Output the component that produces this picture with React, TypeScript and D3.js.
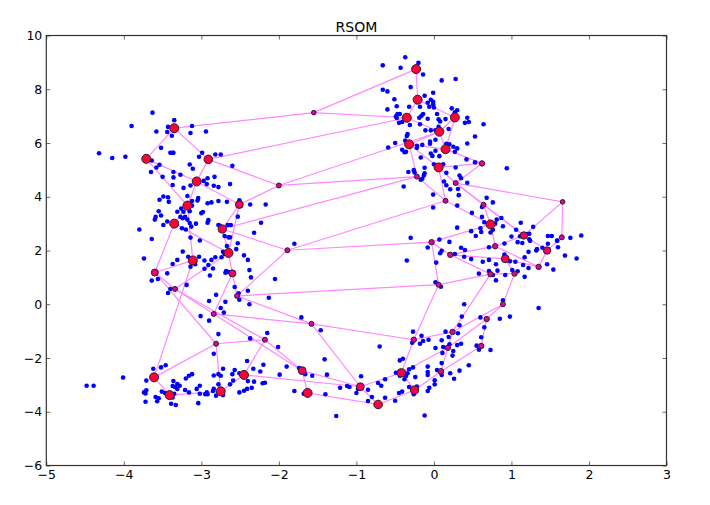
import * as d3 from "d3";
import { useEffect, useRef } from "react";

const chartTitle = "RSOM";
const xTicks = [-5, -4, -3, -2, -1, 0, 1, 2, 3];
const yTicks = [-6, -4, -2, 0, 2, 4, 6, 8, 10];

// input samples
const samples: [number, number][] = [
  [-3.63, 7.13], [-3.35, 6.85], [-3.9, 6.63], [-3.12, 6.63], [-3.43, 6.6], [-3.58, 6.43], [-3.44, 6.41], [-3.14, 6.37],
  [-2.94, 6.43], [-3.38, 6.27], [-3.52, 5.82], [-4.32, 5.62], [-3.4, 5.64], [-3.37, 5.64], [-3.36, 5.64], [-3.98, 5.49],
  [-4.15, 5.44], [-2.99, 5.64], [-3.03, 5.49], [-2.82, 5.57], [-2.75, 5.57], [-3.64, 5.35], [-3.54, 5.19], [-3.58, 5.09],
  [-3.15, 5.2], [-3.11, 5.04], [-2.6, 5.15], [-3.65, 4.92], [-3.36, 4.92], [-3.27, 4.82], [-3.36, 4.72], [-3.5, 4.74],
  [-2.92, 4.69], [-2.83, 4.74], [-2.97, 4.59], [-2.93, 4.47], [-3.37, 4.44], [-3.14, 4.42], [-3.23, 4.33], [-2.84, 4.41],
  [-2.78, 4.36], [-2.63, 4.47], [-3.18, 4.03], [-3.49, 4.01], [-3.43, 3.98], [-3.54, 3.89], [-3.42, 3.81], [-3.04, 3.95],
  [-3.05, 3.86], [-3.12, 3.84], [-2.92, 3.76], [-2.87, 3.79], [-2.78, 3.84], [-2.67, 3.81], [-2.51, 3.87], [-2.37, 3.71],
  [-2.17, 3.71], [-3.12, 3.67], [-3.26, 3.56], [-3.15, 3.46], [-3.23, 3.44], [-3.31, 3.44], [-3.55, 3.46], [-3.52, 3.3],
  [-3.59, 3.25], [-3.6, 3.15], [-2.98, 3.43], [-3.0, 3.39], [-2.53, 3.26], [-3.27, 3.25], [-3.21, 3.25], [-3.24, 3.2],
  [-3.18, 3.15], [-2.91, 3.13], [-2.92, 3.03], [-3.44, 3.08], [-3.49, 2.95], [-3.15, 3.02], [-3.13, 2.89], [-3.07, 3.0],
  [-2.78, 2.95], [-2.76, 2.92], [-2.66, 2.95], [-2.62, 2.95], [-2.23, 3.03], [-3.8, 2.78], [-3.25, 2.83], [-3.2, 2.78],
  [-2.32, 2.66], [-2.7, 2.54], [-2.65, 2.49], [-2.63, 2.49], [-3.64, 2.43], [-3.14, 2.48], [-3.02, 2.37], [-2.53, 2.27],
  [-2.67, 2.17], [-1.8, 2.25],
  [-3.24, 1.96], [-2.55, 2.05], [-2.72, 1.95], [-2.7, 1.87], [-2.74, 1.75], [-3.03, 1.77], [-3.17, 1.77], [-2.82, 1.75],
  [-2.87, 1.65], [-2.96, 1.63], [-2.45, 1.82], [-2.4, 1.65], [-3.74, 1.7], [-3.31, 1.65], [-3.37, 1.5], [-3.08, 1.49],
  [-3.14, 1.4], [-2.91, 1.46], [-2.96, 1.32], [-2.85, 1.33], [-2.68, 1.24], [-2.69, 1.17], [-2.65, 1.2], [-2.38, 1.27],
  [-3.44, 1.15], [-2.89, 1.07], [-2.36, 1.0], [-2.05, 0.94], [-3.64, 0.88], [-3.56, 0.94], [-3.19, 0.72], [-2.57, 0.64],
  [-3.4, 0.57], [-3.43, 0.42], [-2.4, 0.5], [-2.52, 0.41], [-2.81, 0.35], [-2.13, 0.24], [-2.51, 0.17], [-2.9, 0.12],
  [-2.69, 0.09], [-2.38, 0.0], [-2.75, -0.14], [-2.71, -0.31], [-3.01, -0.44], [-2.9, -0.61], [-1.71, -0.49], [-1.46, -0.97],
  [-2.78, -1.11], [-2.15, -1.07], [-2.37, -1.27], [-2.01, -1.59], [-2.84, -1.84], [-1.41, -2.05], [-2.41, -2.11], [-3.52, -2.35],
  [-3.46, -2.27], [-3.62, -2.4], [-2.72, -2.4], [-2.33, -2.4], [-2.2, -2.25], [-2.57, -2.45], [-2.24, -2.5], [-1.9, -2.32],
  [-2.6, -2.6], [-2.51, -2.57], [-2.78, -2.6], [-2.75, -2.66], [-2.84, -2.65], [-3.12, -2.6], [-3.16, -2.66], [-3.2, -2.76],
  [-4.01, -2.73], [-3.71, -2.84], [-3.36, -2.86], [-1.99, -2.62], [-1.57, -2.66], [-1.66, -2.6], [-1.74, -2.37], [-1.38, -2.62],
  [-2.59, -2.84], [-2.4, -2.86], [-2.32, -2.88], [-2.21, -2.94], [-2.18, -2.92], [-2.63, -2.98], [-2.78, -2.98], [-3.31, -2.97],
  [-3.28, -3.03], [-3.37, -3.04], [-3.34, -3.08], [-3.31, -3.15], [-3.02, -3.03], [-3.06, -3.15], [-3.21, -3.19], [-3.16, -3.28],
  [-2.35, -3.11], [-2.41, -3.15], [-2.45, -3.22], [-2.51, -3.28], [-2.84, -3.15], [-2.85, -3.23], [-2.93, -3.28], [-2.95, -3.35],
  [-2.92, -3.35], [-3.02, -3.33], [-2.81, -3.4], [-2.72, -3.38], [-4.48, -3.03], [-4.39, -3.03], [-3.71, -3.2], [-3.74, -3.28],
  [-3.72, -3.32], [-3.51, -3.25], [-3.47, -3.3], [-3.35, -3.33], [-3.37, -3.47], [-3.59, -3.45], [-3.55, -3.5], [-3.57, -3.61],
  [-3.72, -3.63], [-3.39, -3.7], [-3.33, -3.75], [-3.04, -3.68], [-1.8, -3.23], [-1.68, -3.33], [-1.4, -3.35], [-1.26, -4.16],
  [-1.21, -3.11], [-1.12, -3.04], [-1.09, -3.08], [-1.0, -3.3], [-0.98, -3.15],
  [-0.35, 1.63], [-0.08, 2.11], [0.08, 1.9], [0.1, 1.99], [0.2, 2.32], [0.27, 1.87], [0.35, 2.1], [0.4, 2.02],
  [0.39, 1.77], [0.48, 1.68], [0.63, 1.58], [0.71, 2.12], [0.71, 1.65], [0.8, 1.49], [0.91, 1.85], [0.91, 1.77],
  [0.98, 1.6], [1.05, 1.58], [0.91, 2.26], [1.08, 2.31], [1.14, 2.28], [1.22, 1.95], [1.17, 1.75], [1.15, 1.46],
  [1.22, 1.35], [1.32, 2.0], [1.33, 2.05], [1.4, 2.1], [1.47, 2.25], [1.6, 2.12], [1.69, 1.81], [1.84, 1.7],
  [1.46, 1.49], [1.54, 1.29], [1.24, 2.36], [1.59, 2.36], [0.58, 1.14], [0.71, 1.24], [0.82, 1.25], [0.76, 1.09],
  [0.92, 1.09], [0.8, 0.89], [1.01, 1.27], [1.08, 1.23], [1.17, 1.02], [0.03, 1.55], [0.02, 0.82], [0.09, 0.65],
  [0.89, 0.15], [0.39, 0.0], [1.35, -0.14], [0.85, -0.54], [0.98, -0.46], [0.36, -0.46], [0.6, -0.49], [0.65, -0.86],
  [0.33, -0.78], [-0.27, -1.02], [0.15, -1.02], [0.31, -1.08], [-0.16, -1.17], [0.19, -1.22], [0.61, -1.23], [-0.07, -1.32],
  [0.1, -1.34], [-0.14, -1.37], [-0.28, -1.43], [-0.18, -1.47], [0.2, -1.49], [0.3, -1.52], [0.35, -1.47], [0.55, -1.54],
  [0.58, -1.69], [0.73, -1.7], [-0.7, -1.57], [0.02, -1.63], [0.12, -1.59], [0.25, -1.74], [0.11, -1.81], [0.24, -1.91],
  [-0.44, -2.09], [-0.4, -2.03], [0.1, -2.19], [0.45, -2.27], [-0.08, -2.32], [-0.27, -2.35], [-0.32, -2.42], [-0.49, -2.55],
  [-0.44, -2.5], [-0.44, -2.66], [-0.34, -2.57], [0.33, -2.47], [0.04, -2.45], [-0.08, -2.52], [-0.08, -2.63], [0.21, -2.57],
  [0.1, -2.63], [-0.36, -2.67], [-0.38, -2.79], [-0.24, -2.71], [0.26, -2.77], [-0.94, -2.68], [-0.63, -2.79], [0.01, -2.83],
  [0.01, -2.98], [-0.72, -2.93], [-0.68, -3.03], [-0.32, -3.08], [-0.22, -3.06], [-0.06, -3.11], [-0.08, -3.23], [-0.85, -3.18],
  [-0.41, -3.25], [-0.45, -3.3], [-0.26, -3.28], [-0.26, -3.35], [-0.8, -3.45], [-0.63, -3.48], [-0.5, -3.59], [-0.85, -3.6],
  [-0.12, -4.14],
  [-0.37, 9.19], [-0.2, 8.98], [-0.66, 8.89], [-0.43, 8.8], [-0.14, 8.55], [0.1, 8.33], [0.28, 8.38], [-0.3, 8.08],
  [-0.66, 7.98], [-0.6, 7.92], [-0.01, 7.87], [-0.12, 7.76], [-0.51, 7.63], [-0.04, 7.61], [-0.01, 7.53], [-0.08, 7.5],
  [-0.01, 7.44], [-0.48, 7.37], [-0.32, 7.35], [-0.18, 7.35], [-0.06, 7.35], [0.0, 7.32], [0.23, 7.29], [0.3, 7.22],
  [0.27, 7.14], [-0.6, 7.25], [-0.47, 7.08], [-0.44, 7.08], [-0.49, 6.99], [-0.48, 6.93], [0.04, 7.08], [-0.14, 7.08],
  [-0.16, 7.01], [-0.19, 6.94], [-0.08, 6.9], [0.06, 6.88], [0.08, 6.8], [0.15, 6.89], [0.43, 6.94], [0.45, 6.78],
  [0.4, 6.75], [0.64, 6.7], [-0.45, 6.75], [-0.41, 6.78], [-0.31, 6.67], [-0.18, 6.7], [0.06, 6.6], [0.19, 6.52],
  [-0.11, 6.47], [-0.04, 6.47], [0.02, 6.47], [0.53, 6.24], [-0.34, 6.33], [-0.35, 6.26], [-0.37, 6.09], [0.02, 6.12],
  [-0.05, 6.05], [-0.05, 5.97], [-0.5, 6.0], [-0.15, 5.93], [-0.22, 5.9], [-0.22, 5.82], [0.43, 5.98], [0.16, 5.97],
  [0.2, 5.95], [0.25, 5.86], [0.3, 5.8], [-0.59, 5.83], [-0.41, 5.75], [-0.38, 5.66], [-0.36, 5.67], [0.02, 5.71],
  [-0.04, 5.61], [-0.02, 5.52], [0.07, 5.51], [0.27, 5.67], [-0.17, 5.46], [0.42, 5.39], [0.53, 5.28], [0.0, 5.21],
  [0.12, 5.21], [0.94, 5.06], [0.28, 5.09], [-0.12, 5.08], [-0.33, 4.92], [-0.26, 4.99], [-0.25, 4.9], [-0.12, 4.87],
  [-0.13, 4.79], [0.16, 4.89], [0.33, 4.79], [0.35, 4.69], [-0.17, 4.63], [-0.15, 4.67], [0.13, 4.57], [0.43, 4.52],
  [-0.39, 4.38], [0.16, 4.43], [0.21, 4.28], [0.31, 4.29], [-0.01, 4.08], [0.32, 4.06], [0.68, 3.96], [0.76, 3.79],
  [0.3, 3.67], [-0.01, 3.6], [0.62, 3.62], [0.49, 3.4], [0.62, 3.25], [0.87, 3.21], [0.81, 3.15], [0.65, 3.05],
  [0.79, 3.0], [0.89, 2.9], [1.12, 3.03], [1.28, 2.88], [0.3, 2.85], [0.6, 2.83], [0.48, 2.72], [0.61, 2.69],
  [0.73, 2.67], [0.76, 2.77], [0.54, 2.54], [1.06, 2.77], [1.0, 2.52], [1.11, 2.53], [1.2, 2.61], [1.23, 2.62],
  [1.47, 2.54], [1.52, 2.54], [1.76, 2.47], [1.9, 2.56], [1.23, 2.42], [1.59, 2.37], [-0.3, 2.47], [0.07, 2.41],
];

// map units; the position in this list is the node id used by nodeLinks, counted from 1
const nodes: [number, number][] = [
  [-3.35, 6.55], [-3.71, 5.41], [-2.91, 5.39], [-3.06, 4.57], [-3.18, 3.67], [-3.35, 3.0], [-2.51, 3.71], [-2.73, 2.8],
  [-2.0, 4.42], [-1.55, 7.13], [-1.89, 2.01], [-2.65, 1.91], [-3.11, 1.63], [-2.6, 1.15], [-3.6, 1.18], [-3.34, 0.57],
  [-2.54, 0.31], [-2.84, -0.36], [-1.58, -0.73], [-2.18, -1.32], [-2.81, -1.47], [-3.61, -2.72], [-3.41, -3.38], [-2.75, -3.24],
  [-2.45, -2.63], [-1.7, -2.47], [-1.63, -3.3], [-0.95, -3.07], [-0.72, -3.73], [-0.42, -2.55], [-0.25, -3.19], [0.09, -2.5],
  [0.61, -1.55], [0.18, -1.62], [0.68, -0.55], [0.89, 0.0], [0.24, -1.03], [-0.26, -1.32], [0.06, 0.73], [0.73, 1.12],
  [1.04, 1.14], [1.35, 1.39], [1.46, 2.0], [0.92, 1.69], [0.21, 1.84], [-0.03, 2.31], [0.79, 2.16], [-0.23, 8.75],
  [-0.21, 7.61], [-0.35, 6.94], [0.27, 6.95], [0.07, 6.42], [-0.32, 5.95], [0.15, 5.77], [0.06, 5.09], [0.62, 5.24],
  [-0.22, 4.75], [0.28, 4.51], [0.15, 3.85], [0.64, 3.7], [1.66, 3.81], [0.73, 2.97], [1.16, 2.56], [1.65, 2.49],
];

// samples won by each node, only judged from the drawn marker size
const nodeHits = [
  12, 12, 11, 12, 12, 12, 9, 10, 2, 1, 2, 12, 12, 7, 7, 2,
  2, 2, 2, 2, 2, 12, 12, 12, 12, 9, 12, 9, 11, 10, 10, 4,
  3, 3, 3, 2, 3, 3, 2, 3, 3, 3, 8, 9, 3, 3, 3, 12,
  12, 12, 12, 12, 12, 12, 12, 3, 2, 2, 2, 2, 1, 12, 8, 2,
];

const nodeLinks: [number, number][] = [
  [1, 10], [10, 50], [10, 48], [1, 2], [1, 3], [2, 4], [3, 4], [3, 50], [3, 9], [4, 7], [2, 5], [4, 5],
  [5, 6], [5, 13], [6, 15], [13, 22], [6, 12], [8, 12], [7, 8], [7, 12], [8, 11], [7, 9], [9, 52], [9, 57],
  [8, 57], [11, 59], [12, 14], [14, 17], [14, 18], [12, 16], [13, 15], [15, 16], [15, 21], [16, 18], [16, 20], [18, 19],
  [18, 26], [20, 26], [20, 21], [20, 25], [21, 22], [21, 24], [22, 23], [23, 24], [24, 25], [25, 28], [26, 27], [26, 28],
  [27, 29], [19, 28], [19, 38], [17, 19], [17, 39], [11, 17], [11, 46], [28, 29], [28, 30], [29, 31], [30, 31], [30, 34],
  [30, 38], [31, 32], [32, 33], [32, 34], [33, 35], [34, 35], [34, 37], [37, 38], [36, 37], [35, 36], [36, 41], [37, 40],
  [38, 39], [39, 40], [40, 41], [41, 44], [39, 46], [45, 46], [45, 47], [44, 45], [40, 45], [42, 47], [42, 44], [42, 43],
  [47, 62], [43, 63], [47, 63], [46, 62], [61, 63], [61, 64], [60, 63], [60, 62], [58, 60], [58, 63], [58, 61], [56, 58],
  [55, 56], [55, 58], [55, 59], [53, 55], [53, 57], [57, 59], [59, 62], [54, 56], [53, 54], [52, 53], [52, 54], [51, 54],
  [51, 52], [50, 52], [49, 50], [49, 51], [48, 49], [43, 64],
];

const width = 710;
const height = 505;
const frameLeft = 46.3;
const frameRight = 666.5;
const frameTop = 35.5;
const frameBottom = 465.5;

export default function App() {
  const svgRef = useRef<SVGSVGElement | null>(null);

  useEffect(() => {
    const svg = d3.select(svgRef.current);
    svg.selectAll("*").remove();

    const xScale = d3.scaleLinear().domain([-5, 3]).range([frameLeft, frameRight]);
    const yScale = d3.scaleLinear().domain([-6, 10]).range([frameBottom, frameTop]);
    const radius = d3.scaleLinear().domain([1, 12]).range([2.3, 4.5]);
    const fill = d3
      .scaleLinear<string>()
      .domain([1, 12])
      .range(["#e000b0", "#ff0038"]);

    svg
      .append("g")
      .selectAll("line")
      .data(nodeLinks)
      .enter()
      .append("line")
      .attr("x1", (d) => xScale(nodes[d[0] - 1][0]))
      .attr("y1", (d) => yScale(nodes[d[0] - 1][1]))
      .attr("x2", (d) => xScale(nodes[d[1] - 1][0]))
      .attr("y2", (d) => yScale(nodes[d[1] - 1][1]))
      .attr("stroke", "#ff88ff")
      .attr("stroke-width", 1.2);

    svg
      .append("g")
      .selectAll("circle")
      .data(samples)
      .enter()
      .append("circle")
      .attr("cx", (d) => xScale(d[0]))
      .attr("cy", (d) => yScale(d[1]))
      .attr("r", 2.3)
      .attr("fill", "#0000ff");

    svg
      .append("g")
      .selectAll("circle")
      .data(nodes)
      .enter()
      .append("circle")
      .attr("cx", (d) => xScale(d[0]))
      .attr("cy", (d) => yScale(d[1]))
      .attr("r", (d, i) => radius(nodeHits[i]))
      .attr("fill", (d, i) => fill(nodeHits[i]))
      .attr("stroke", "#222")
      .attr("stroke-width", 1);

    const tickFont = "'DejaVu Sans', sans-serif";

    // ticks point inward on all four sides
    const bottom = svg
      .append("g")
      .attr("transform", `translate(0,${frameBottom})`)
      .call(d3.axisBottom(xScale).tickValues(xTicks).tickSizeOuter(0).tickSizeInner(-4).tickPadding(5));
    const top = svg
      .append("g")
      .attr("transform", `translate(0,${frameTop})`)
      .call(d3.axisTop(xScale).tickValues(xTicks).tickSizeOuter(0).tickSizeInner(-4).tickFormat(() => ""));
    const left = svg
      .append("g")
      .attr("transform", `translate(${frameLeft},0)`)
      .call(d3.axisLeft(yScale).tickValues(yTicks).tickSizeOuter(0).tickSizeInner(-4).tickPadding(4));
    const right = svg
      .append("g")
      .attr("transform", `translate(${frameRight},0)`)
      .call(d3.axisRight(yScale).tickValues(yTicks).tickSizeOuter(0).tickSizeInner(-4).tickFormat(() => ""));

    [bottom, top, left, right].forEach((axis) => {
      axis.select(".domain").remove();
      axis.selectAll("line").attr("stroke", "#444").attr("stroke-width", 0.8);
      axis.selectAll("text").attr("font-family", tickFont).attr("font-size", 12.5).attr("fill", "#000");
    });

    svg
      .append("rect")
      .attr("x", frameLeft)
      .attr("y", frameTop)
      .attr("width", frameRight - frameLeft)
      .attr("height", frameBottom - frameTop)
      .attr("fill", "none")
      .attr("stroke", "#333")
      .attr("stroke-width", 1.2);

    svg
      .append("text")
      .attr("x", (frameLeft + frameRight) / 2)
      .attr("y", 31.5)
      .attr("text-anchor", "middle")
      .attr("font-family", tickFont)
      .attr("font-size", 14)
      .attr("fill", "#000")
      .text(chartTitle);
  }, []);

  return (
    <svg
      ref={svgRef}
      width={width}
      height={height}
      style={{ position: "absolute", left: 0, top: 0, background: "#fff" }}
    />
  );
}
